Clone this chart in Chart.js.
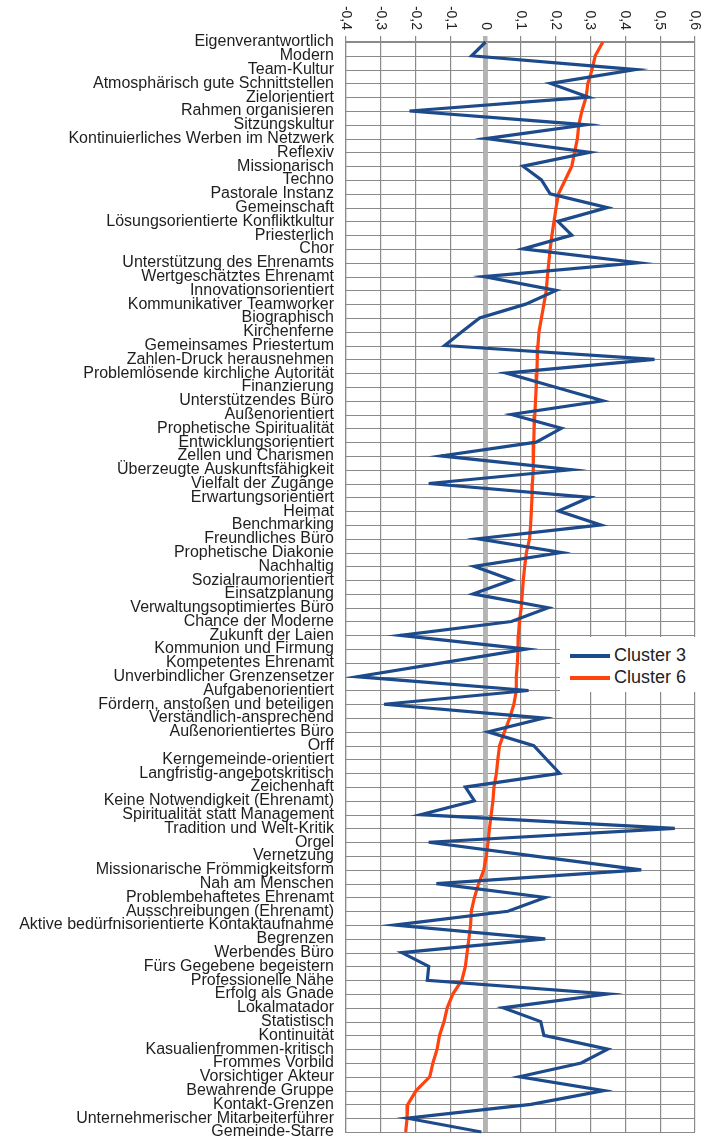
<!DOCTYPE html>
<html>
<head>
<meta charset="utf-8">
<script src="https://cdn.jsdelivr.net/npm/chart.js@4/dist/chart.umd.min.js"></script>
<style>
  html, body { margin: 0; padding: 0; background: #fff; }
  #wrap { position: relative; width: 711px; height: 1139px; }
  #legend {
    position: absolute; left: 560px; top: 637px; width: 151px; height: 55px;
    background: #fff; font-family: "Liberation Sans", Arial, sans-serif; font-size: 18px; color: #222;
  }
  #legend .item { position: absolute; left: 10px; height: 22px; line-height: 22px; white-space: nowrap; }
  #legend .swatch { display: inline-block; width: 40px; height: 4px; vertical-align: middle; margin-right: 4px; }
</style>
</head>
<body>
<div id="wrap">
  <canvas id="chart"></canvas>
  <div id="legend"></div>
</div>
<script>
// --- DATA ---
const categories = [
  'Eigenverantwortlich', 'Modern', 'Team-Kultur', 'Atmosphärisch gute Schnittstellen', 'Zielorientiert',
  'Rahmen organisieren', 'Sitzungskultur', 'Kontinuierliches Werben im Netzwerk', 'Reflexiv', 'Missionarisch',
  'Techno', 'Pastorale Instanz', 'Gemeinschaft', 'Lösungsorientierte Konfliktkultur', 'Priesterlich',
  'Chor', 'Unterstützung des Ehrenamts', 'Wertgeschätztes Ehrenamt', 'Innovationsorientiert', 'Kommunikativer Teamworker',
  'Biographisch', 'Kirchenferne', 'Gemeinsames Priestertum', 'Zahlen-Druck herausnehmen', 'Problemlösende kirchliche Autorität',
  'Finanzierung', 'Unterstützendes Büro', 'Außenorientiert', 'Prophetische Spiritualität', 'Entwicklungsorientiert',
  'Zellen und Charismen', 'Überzeugte Auskunftsfähigkeit', 'Vielfalt der Zugänge', 'Erwartungsorientiert', 'Heimat',
  'Benchmarking', 'Freundliches Büro', 'Prophetische Diakonie', 'Nachhaltig', 'Sozialraumorientiert',
  'Einsatzplanung', 'Verwaltungsoptimiertes Büro', 'Chance der Moderne', 'Zukunft der Laien', 'Kommunion und Firmung',
  'Kompetentes Ehrenamt', 'Unverbindlicher Grenzensetzer', 'Aufgabenorientiert', 'Fördern, anstoßen und beteiligen', 'Verständlich-ansprechend',
  'Außenorientiertes Büro', 'Orff', 'Kerngemeinde-orientiert', 'Langfristig-angebotskritisch', 'Zeichenhaft',
  'Keine Notwendigkeit (Ehrenamt)', 'Spiritualität statt Management', 'Tradition und Welt-Kritik', 'Orgel', 'Vernetzung',
  'Missionarische Frömmigkeitsform', 'Nah am Menschen', 'Problembehaftetes Ehrenamt', 'Ausschreibungen (Ehrenamt)', 'Aktive bedürfnisorientierte Kontaktaufnahme',
  'Begrenzen', 'Werbendes Büro', 'Fürs Gegebene begeistern', 'Professionelle Nähe', 'Erfolg als Gnade',
  'Lokalmatador', 'Statistisch', 'Kontinuität', 'Kasualienfrommen-kritisch', 'Frommes Vorbild',
  'Vorsichtiger Akteur', 'Bewahrende Gruppe', 'Kontakt-Grenzen', 'Unternehmerischer Mitarbeiterführer', 'Gemeinde-Starre'
];

const cluster3 = [
  0.0, -0.04, 0.43, 0.186, 0.295, -0.218, 0.288, 0.002, 0.298, 0.107,
  0.16, 0.185, 0.349, 0.207, 0.247, 0.107, 0.437, -0.005, 0.202, 0.115,
  -0.017, -0.068, -0.117, 0.484, 0.059, 0.198, 0.336, 0.074, 0.217, 0.145,
  -0.127, 0.245, -0.163, 0.298, 0.209, 0.33, -0.022, 0.217, -0.033, 0.075,
  -0.036, 0.179, 0.074, -0.244, 0.117, -0.125, -0.368, 0.123, -0.291, 0.167,
  0.007, 0.138, 0.175, 0.212, -0.058, -0.032, -0.186, 0.542, -0.163, 0.141,
  0.446, -0.141, 0.171, 0.064, -0.261, 0.171, -0.24, -0.163, -0.167, 0.35,
  0.05, 0.158, 0.167, 0.35, 0.274, 0.097, 0.339, 0.13, -0.224, -0.012
];

const cluster6 = [
  0.336, 0.314, 0.305, 0.293, 0.288, 0.276, 0.267, 0.263, 0.255, 0.247,
  0.228, 0.209, 0.202, 0.196, 0.19, 0.185, 0.181, 0.177, 0.174, 0.167,
  0.16, 0.153, 0.15, 0.148, 0.147, 0.145, 0.143, 0.141, 0.139, 0.138,
  0.137, 0.136, 0.134, 0.133, 0.131, 0.129, 0.126, 0.117, 0.112, 0.108,
  0.105, 0.102, 0.097, 0.094, 0.093, 0.091, 0.088, 0.088, 0.081, 0.069,
  0.054, 0.04, 0.035, 0.031, 0.024, 0.021, 0.016, 0.011, 0.007, 0.002,
  -0.005, -0.02, -0.032, -0.041, -0.043, -0.048, -0.053, -0.058, -0.068, -0.094,
  -0.11, -0.119, -0.132, -0.139, -0.151, -0.16, -0.199, -0.223, -0.225, -0.229
];

const seriesNames = ['Cluster 3', 'Cluster 6'];
const seriesColors = ['#1c4a8a', '#ff420e'];
const xMin = -0.4, xMax = 0.6, xStep = 0.1;

const FONT = '"Liberation Sans", Arial, sans-serif';
const GRID = '#8a8a8a';
const ZERO = '#b4b4b4';

function isZero(v) { return Math.abs(v) < 1e-9; }

function fmtTick(v) {
  if (isZero(v)) return '0';
  return v.toFixed(1).replace('.', ',');
}

// row lines + the grey zero band on top of them, under the data lines
const rowGrid = {
  id: 'rowGrid',
  beforeDatasetsDraw(chart) {
    const { ctx, chartArea: a, scales: { x, y } } = chart;
    ctx.save();
    ctx.strokeStyle = GRID;
    ctx.lineWidth = 1.2;
    ctx.beginPath();
    y.ticks.forEach((t, i) => {
      const py = Math.round(y.getPixelForTick(i)) + 0.5;
      ctx.moveTo(a.left, py);
      ctx.lineTo(a.right, py);
    });
    ctx.stroke();
    const zx = x.getPixelForValue(0);
    ctx.strokeStyle = ZERO;
    ctx.lineWidth = 4.5;
    ctx.beginPath();
    ctx.moveTo(zx, a.top);
    ctx.lineTo(zx, a.bottom);
    ctx.stroke();
    ctx.restore();
  }
};

// x tick labels are rotated clockwise (read top to bottom), which chart.js can't do itself
const rotatedXLabels = {
  id: 'rotatedXLabels',
  afterDraw(chart) {
    const scale = chart.scales.x;
    const ctx = chart.ctx;
    ctx.save();
    ctx.font = '14px ' + FONT;
    ctx.fillStyle = '#222';
    ctx.textAlign = 'right';
    ctx.textBaseline = 'middle';
    scale.ticks.forEach(t => {
      const px = scale.getPixelForValue(t.value);
      ctx.save();
      ctx.translate(px, 30);
      ctx.rotate(Math.PI / 2);
      ctx.fillText(fmtTick(t.value), 0, 0);
      ctx.restore();
    });
    ctx.restore();
  }
};

const chart = new Chart(document.getElementById('chart'), {
  type: 'line',
  data: {
    labels: categories,
    datasets: [cluster3, cluster6].map((d, i) => ({
      label: seriesNames[i],
      data: d,
      borderColor: seriesColors[i],
      backgroundColor: seriesColors[i],
      borderWidth: 3.2,
      pointRadius: 0,
      tension: 0,
      fill: false
    }))
  },
  options: {
    indexAxis: 'y',
    responsive: true,
    maintainAspectRatio: false,
    animation: false,
    devicePixelRatio: 1,
    layout: { padding: { left: 0, right: 16, top: 0, bottom: 7 } },
    plugins: { legend: { display: false }, tooltip: { enabled: false } },
    scales: {
      y: {
        type: 'category',
        offset: false,
        afterFit: s => { s.width = 346; s.paddingTop = 0; s.paddingBottom = 0; },
        ticks: {
          autoSkip: false,
          padding: 12,
          color: '#1e1e1e',
          font: { family: FONT, size: 16 }
        },
        grid: { display: false, drawTicks: false },
        border: { display: true, color: GRID, width: 1.2 }
      },
      x: {
        type: 'linear',
        position: 'top',
        min: xMin,
        max: xMax,
        afterFit: s => { s.height = 42; },
        ticks: { display: false, stepSize: xStep },
        grid: {
          tickLength: 6,
          color: c => (c.tick && isZero(c.tick.value)) ? ZERO : GRID,
          lineWidth: c => (c.tick && isZero(c.tick.value)) ? 4.5 : 1.2
        },
        border: { display: true, color: GRID, width: 1.2 }
      }
    }
  },
  plugins: [rowGrid, rotatedXLabels]
});

// legend box sits over the plot, as in the original
const legend = document.getElementById('legend');
seriesNames.forEach((name, i) => {
  const item = document.createElement('div');
  item.className = 'item';
  item.style.top = (7 + i * 22) + 'px';
  item.innerHTML = '<span class="swatch" style="background:' + seriesColors[i] + '"></span>' + name;
  legend.appendChild(item);
});
</script>
</body>
</html>
